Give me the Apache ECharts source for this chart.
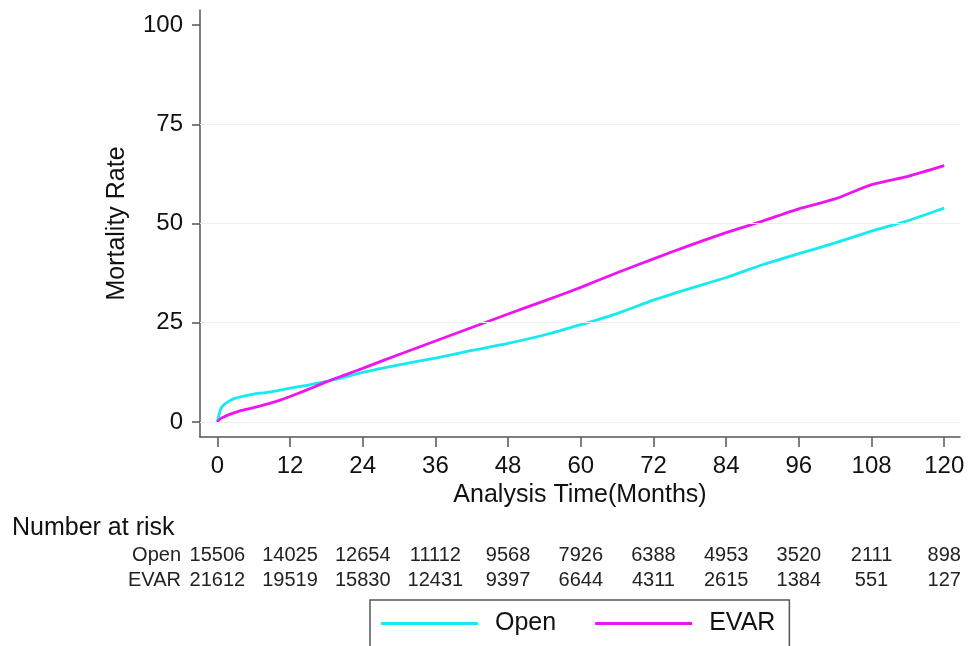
<!DOCTYPE html>
<html>
<head>
<meta charset="utf-8">
<script src="https://cdn.jsdelivr.net/npm/echarts@6/dist/echarts.min.js"></script>
<style>html,body{margin:0;padding:0;background:#fff}#c{width:970px;height:646px}</style>
</head>
<body>
<div id="c"></div>
<script>
const months = [0, 0.5, 1, 2, 3, 4, 6, 8, 10, 12, 15, 18, 21, 24, 30, 36, 42, 48, 54, 60, 66, 72, 78, 84, 90, 96, 102, 108, 114, 120];
const openRate = [0, 3.0, 4.2, 5.3, 6.0, 6.4, 7.0, 7.4, 7.9, 8.5, 9.3, 10.2, 11.3, 12.5, 14.4, 16.1, 18.0, 19.8, 21.9, 24.5, 27.3, 30.7, 33.6, 36.4, 39.6, 42.4, 45.1, 48.1, 50.7, 53.9];
const evarRate = [0, 0.8, 1.2, 1.9, 2.4, 2.9, 3.6, 4.4, 5.3, 6.4, 8.2, 10.1, 11.8, 13.5, 17.0, 20.4, 23.8, 27.2, 30.5, 33.9, 37.6, 41.1, 44.5, 47.7, 50.6, 53.7, 56.2, 59.8, 61.9, 64.6];
const xTicks = [0, 12, 24, 36, 48, 60, 72, 84, 96, 108, 120];
const yTicks = [0, 25, 50, 75, 100];
const gridValues = [0, 25, 50, 75];
const riskTimes = [0, 12, 24, 36, 48, 60, 72, 84, 96, 108, 120];
const riskOpen = [15506, 14025, 12654, 11112, 9568, 7926, 6388, 4953, 3520, 2111, 898];
const riskEvar = [21612, 19519, 15830, 12431, 9397, 6644, 4311, 2615, 1384, 551, 127];

const FONT = '"Liberation Sans", Arial, sans-serif';
const chart = echarts.init(document.getElementById('c'));
const openData = months.map((m, i) => [m, openRate[i]]);
const evarData = months.map((m, i) => [m, evarRate[i]]);

chart.setOption({
  animation: false,
  backgroundColor: '#fff',
  textStyle: { fontFamily: FONT },
  grid: { left: 200, right: 10, top: 10, bottom: 209, containLabel: false },
  xAxis: {
    type: 'value', min: -2.86, max: 122.6,
    name: 'Analysis Time(Months)', nameLocation: 'middle', nameGap: 41,
    nameTextStyle: { fontSize: 25, color: '#111', fontFamily: FONT },
    axisLine: { show: true, onZero: false, lineStyle: { color: '#555', width: 1.5 } },
    axisTick: { show: true, length: 10, customValues: xTicks, lineStyle: { color: '#555', width: 1.5 } },
    axisLabel: { customValues: xTicks, fontSize: 24, color: '#111', margin: 17, fontFamily: FONT },
    splitLine: { show: false }
  },
  yAxis: {
    type: 'value', min: -3.8, max: 103.8,
    name: 'Mortality Rate', nameLocation: 'middle', nameGap: 70,
    nameTextStyle: { fontSize: 25, color: '#111', fontFamily: FONT },
    axisLine: { show: true, onZero: false, lineStyle: { color: '#555', width: 1.5 } },
    axisTick: { show: true, length: 8, customValues: yTicks, lineStyle: { color: '#555', width: 1.5 } },
    axisLabel: { customValues: yTicks, fontSize: 24, color: '#111', margin: 17, fontFamily: FONT },
    splitLine: { show: false }
  },
  legend: {
    data: ['Open', 'EVAR'],
    left: 370, top: 600, orient: 'horizontal',
    icon: 'rect', itemWidth: 97, itemHeight: 3, itemGap: 39,
    padding: [11, 14, 12, 11],
    borderColor: '#555', borderWidth: 1.5,
    textStyle: { fontSize: 25, color: '#111', padding: [0, 0, 0, 12], fontFamily: FONT }
  },
  series: [
    {
      name: 'grid', type: 'line', data: [], z: 1, silent: true,
      markLine: {
        silent: true, symbol: 'none', label: { show: false },
        lineStyle: { color: '#eef1f1', width: 1.2, type: 'solid' },
        data: gridValues.map(v => ({ yAxis: v }))
      }
    },
    {
      name: 'Open', type: 'line', data: openData, showSymbol: false, smooth: 0.2, z: 3,
      color: '#14eaf0', lineStyle: { color: '#14eaf0', width: 2.8 }
    },
    {
      name: 'EVAR', type: 'line', data: evarData, showSymbol: false, smooth: 0.2, z: 4,
      color: '#ee14ee', lineStyle: { color: '#ee14ee', width: 2.8 }
    }
  ]
});

const riskGraphics = [
  { type: 'text', left: 12, top: 516, style: { text: 'Number at risk', fontSize: 25, fill: '#111', fontFamily: FONT } },
  { type: 'text', x: 181, y: 555, style: { text: 'Open', fontSize: 20, fill: '#222', align: 'right', verticalAlign: 'middle', fontFamily: FONT } },
  { type: 'text', x: 181, y: 580, style: { text: 'EVAR', fontSize: 20, fill: '#222', align: 'right', verticalAlign: 'middle', fontFamily: FONT } }
];
riskTimes.forEach((t, i) => {
  const px = chart.convertToPixel({ xAxisIndex: 0 }, t);
  riskGraphics.push({ type: 'text', x: px, y: 555, style: { text: String(riskOpen[i]), fontSize: 20, fill: '#222', align: 'center', verticalAlign: 'middle', fontFamily: FONT } });
  riskGraphics.push({ type: 'text', x: px, y: 580, style: { text: String(riskEvar[i]), fontSize: 20, fill: '#222', align: 'center', verticalAlign: 'middle', fontFamily: FONT } });
});
chart.setOption({ graphic: riskGraphics });
</script>
</body>
</html>
